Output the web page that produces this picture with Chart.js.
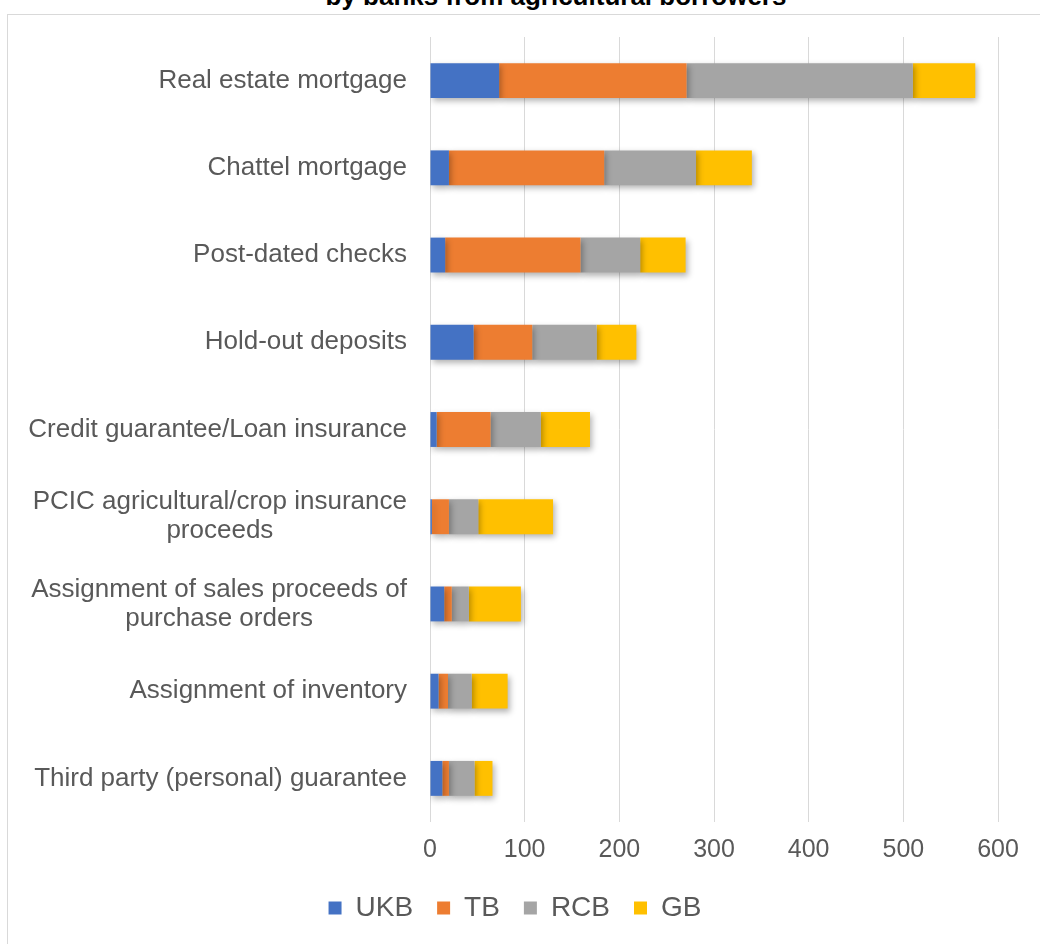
<!DOCTYPE html>
<html>
<head>
<meta charset="utf-8">
<script src="https://cdn.jsdelivr.net/npm/chart.js@4.4.1/dist/chart.umd.min.js"></script>
<style>
  html, body { margin: 0; padding: 0; background: #ffffff; }
  body { width: 1040px; height: 944px; position: relative; overflow: hidden; font-family: "Liberation Sans", Arial, sans-serif; }
  #frame { position: absolute; left: 7px; top: 14px; width: 1100px; height: 1000px; border: 1px solid #d9d9d9; box-sizing: border-box; }
  #title { position: absolute; left: 0; width: 1112px; top: -19px; text-align: center; font-weight: bold; font-size: 26px; color: #000; white-space: nowrap; }
  #wrap { position: absolute; left: 0; top: 0; width: 1040px; height: 944px; }
</style>
</head>
<body>
<div id="frame"></div>
<div id="title">by banks from agricultural borrowers</div>
<div id="wrap"><canvas id="c" width="1040" height="944"></canvas></div>
<script>
const categories = [
  ["Real estate mortgage"],
  ["Chattel mortgage"],
  ["Post-dated checks"],
  ["Hold-out deposits"],
  ["Credit guarantee/Loan insurance"],
  ["PCIC agricultural/crop insurance", "proceeds"],
  ["Assignment of sales proceeds of", "purchase orders"],
  ["Assignment of inventory"],
  ["Third party (personal) guarantee"]
];
const seriesNames = ["UKB", "TB", "RCB", "GB"];
const ukb = [73, 20, 16, 46, 7, 2, 15, 9, 13];
const tb  = [198, 164, 143, 62, 57, 18, 8, 10, 7];
const rcb = [239, 97, 63, 68, 53, 31, 18, 25, 27];
const gb  = [66, 59, 48, 42, 52, 79, 55, 38, 19];
const xTicks = [0, 100, 200, 300, 400, 500, 600];
const colors = ["#4472C4", "#ED7D31", "#A5A5A5", "#FFC000"];

const fontFamily = '"Liberation Sans", Arial, sans-serif';
const labelFont = '26px ' + fontFamily;
const labelColor = '#595959';

const shadowPlugin = {
  id: 'shadow',
  beforeDatasetsDraw(chart) {
    const ctx = chart.ctx;
    ctx.save();
    ctx.shadowColor = 'rgba(0,0,0,0.30)';
    ctx.shadowBlur = 6;
    ctx.shadowOffsetX = 2;
    ctx.shadowOffsetY = 3;
  },
  afterDatasetsDraw(chart) {
    chart.ctx.restore();
  }
};

const catLabelPlugin = {
  id: 'catLabels',
  afterDraw(chart) {
    const ctx = chart.ctx;
    const yScale = chart.scales.y;
    const rightEdge = chart.chartArea.left - 23;
    const lh = 29;
    ctx.save();
    ctx.font = labelFont;
    ctx.fillStyle = labelColor;
    ctx.textBaseline = 'middle';
    ctx.textAlign = 'center';
    categories.forEach((lines, i) => {
      const yc = yScale.getPixelForValue(i);
      const maxW = Math.max(...lines.map(l => ctx.measureText(l).width));
      const cx = rightEdge - maxW / 2;
      const y0 = yc - (lines.length - 1) * lh / 2;
      lines.forEach((l, k) => ctx.fillText(l, cx, y0 + k * lh));
    });
    ctx.restore();
  }
};

const data = {
  labels: categories.map(c => c.join(' ')),
  datasets: [ukb, tb, rcb, gb].map((vals, i) => ({
    label: seriesNames[i],
    data: vals,
    backgroundColor: colors[i],
    borderWidth: 0,
    categoryPercentage: 1.0,
    barPercentage: 0.40
  }))
};

new Chart(document.getElementById('c'), {
  type: 'bar',
  data,
  plugins: [shadowPlugin, catLabelPlugin],
  options: {
    indexAxis: 'y',
    responsive: false,
    animation: false,
    devicePixelRatio: 1,
    layout: { padding: { left: 32, right: 42, top: 37, bottom: 12 } },
    plugins: {
      legend: {
        position: 'bottom',
        labels: {
          boxWidth: 13,
          boxHeight: 13,
          padding: 24,
          color: labelColor,
          font: { family: fontFamily, size: 28 }
        }
      },
      tooltip: { enabled: false },
      title: { display: false }
    },
    scales: {
      x: {
        stacked: true,
        min: 0,
        max: 600,
        afterBuildTicks(scale) { scale.ticks = xTicks.map(v => ({ value: v })); },
        afterFit(scale) { scale.height = 48; },
        grid: { color: '#D9D9D9', lineWidth: 1, drawTicks: false },
        border: { display: false },
        ticks: {
          padding: 13,
          color: labelColor,
          font: { family: fontFamily, size: 25 }
        }
      },
      y: {
        stacked: true,
        grid: { display: false },
        border: { display: false },
        ticks: { display: false },
        afterFit(scale) { scale.width = 398; }
      }
    }
  }
});
</script>
</body>
</html>
